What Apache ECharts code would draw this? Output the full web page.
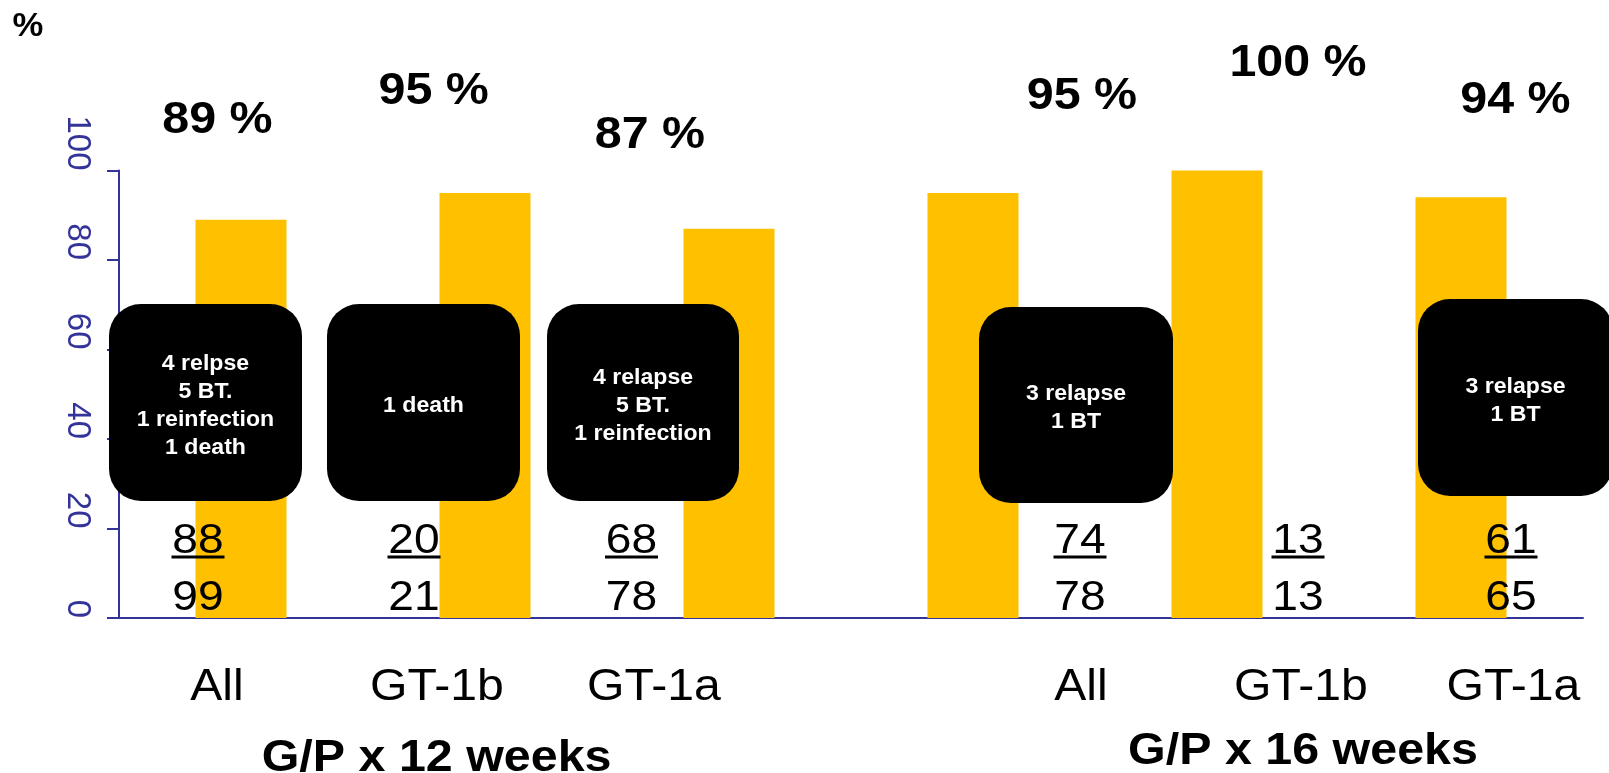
<!DOCTYPE html>
<html>
<head>
<meta charset="utf-8">
<script src="https://cdn.jsdelivr.net/npm/echarts@6/dist/echarts.min.js"></script>
<style>
html,body{margin:0;padding:0;background:#fff;}
#chart{width:1609px;height:773px;}
</style>
</head>
<body>
<div id="chart"></div>
<script>
// ---------- data ----------
const categories = ['All', 'GT-1b', 'GT-1a', 'All', 'GT-1b', 'GT-1a'];
const groupTitles = ['G/P x 12 weeks', 'G/P x 16 weeks'];
const groupOf = [0, 0, 0, 1, 1, 1];
const svrRates = [89, 95, 87, 95, 100, 94];
const responders = [88, 20, 68, 74, 13, 61];
const totals = [99, 21, 78, 78, 13, 65];
const failureNotes = [
  '4 relpse\n5 BT.\n1 reinfection\n1 death',
  '1 death',
  '4 relapse\n5 BT.\n1 reinfection',
  '3 relapse\n1 BT',
  '',
  '3 relapse\n1 BT'
];
const yMin = 0, yMax = 100, yStep = 20;
const unitLabel = '%';

// ---------- layout (pixel positions of annotation texts) ----------
const pctPos = [[217.5,117],[433.7,88],[650,132.5],[1082,93],[1298,60.3],[1515.5,97.3]];
const boxRects = [[109,304,193,197],[327,304,193,197],[547,304,192,197],[979,307,194,196],null,[1418,299,195,197]];
const fracX = [198, 414, 631.5, 1080, 1298, 1511];
const catX = [217, 437, 654, 1081, 1301, 1513.5];
const groupPos = [[436.6,755],[1303,748.5]];

const AXIS = '#333399';
const FONT = '"Liberation Sans", Arial, sans-serif';
const SX = 1.1;

const chart = echarts.init(document.getElementById('chart'), null, {renderer: 'canvas'});

function txt(x, y, text, size, weight, color, extra) {
  return Object.assign({
    type: 'text', x: x, y: y + size * 0.08, scaleX: SX, z: 100,
    style: {
      text: text, fill: color || '#000',
      font: (weight || 'normal') + ' ' + size + 'px ' + FONT,
      textAlign: 'center', textVerticalAlign: 'middle'
    }
  }, extra || {});
}

const graphics = [];
graphics.push(txt(28, 24, unitLabel, 33, 'bold', '#000', {scaleX: 1.05}));
svrRates.forEach((v, i) => {
  graphics.push(txt(pctPos[i][0], pctPos[i][1], v + ' %', 44, 'bold'));
});
failureNotes.forEach((note, i) => {
  const r = boxRects[i];
  if (!r) return;
  graphics.push({
    type: 'rect', z: 90,
    shape: {x: r[0], y: r[1], width: r[2], height: r[3], r: 32},
    style: {fill: '#000'}
  });
  graphics.push({
    type: 'text', z: 100, x: r[0] + r[2] / 2, y: r[1] + r[3] / 2 + 3, scaleX: 1.05,
    style: {
      text: note, fill: '#fff', font: 'bold 22px ' + FONT, lineHeight: 28,
      textAlign: 'center', textVerticalAlign: 'middle'
    }
  });
});
responders.forEach((n, i) => {
  graphics.push(txt(fracX[i], 538.5, String(n), 42, 'normal'));
  graphics.push({
    type: 'line', z: 100,
    shape: {x1: fracX[i] - 26.5, y1: 557, x2: fracX[i] + 26.5, y2: 557},
    style: {stroke: '#000', lineWidth: 3}
  });
  graphics.push(txt(fracX[i], 595.5, String(totals[i]), 42, 'normal'));
});
categories.forEach((c, i) => {
  graphics.push(txt(catX[i], 684, c, 45, 'normal', '#000', {scaleX: 1.07}));
});
groupTitles.forEach((g, i) => {
  graphics.push(txt(groupPos[i][0], groupPos[i][1], g, 44, 'bold'));
});

const option = {
  backgroundColor: '#fff',
  animation: false,
  grid: {left: 119, right: 26, top: 170.5, bottom: 155, containLabel: false},
  xAxis: {
    type: 'category',
    data: categories.map((c, i) => c + ' (' + groupTitles[groupOf[i]] + ')'),
    boundaryGap: true,
    axisLine: {show: true, lineStyle: {color: AXIS, width: 2}},
    axisTick: {show: false},
    axisLabel: {show: false},
    splitLine: {show: false}
  },
  yAxis: {
    type: 'value', min: yMin, max: yMax, interval: yStep,
    axisLine: {show: true, lineStyle: {color: AXIS, width: 2}},
    axisTick: {show: true, length: 12, lineStyle: {color: AXIS, width: 2}},
    splitLine: {show: false},
    axisLabel: {
      rotate: -90, margin: 42, color: AXIS, fontSize: 33, fontFamily: FONT,
      align: 'right', verticalAlign: 'middle'
    }
  },
  series: [{
    type: 'bar',
    data: svrRates,
    barWidth: 91,
    itemStyle: {color: '#FFC000'},
    z: 2
  }],
  graphic: graphics
};
chart.setOption(option);
</script>
</body>
</html>
